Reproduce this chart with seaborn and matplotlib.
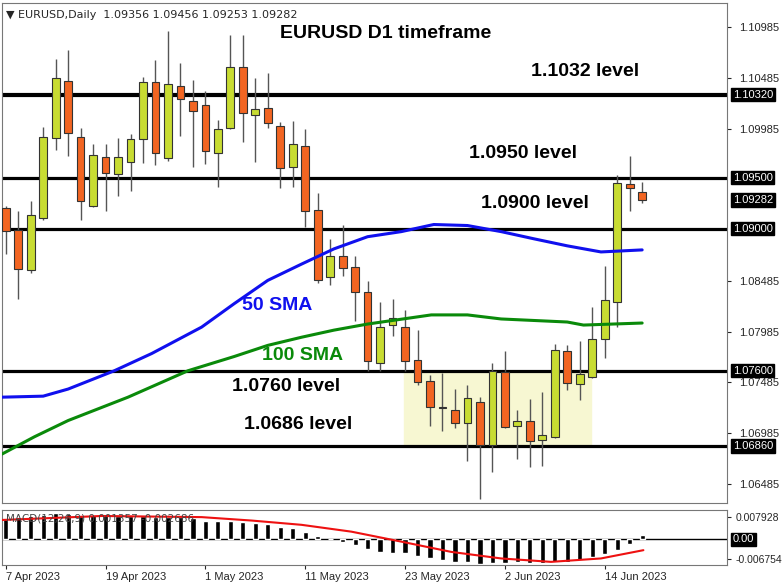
import numpy as np
import pandas as pd
import matplotlib
matplotlib.use("Agg")
import matplotlib.pyplot as plt
import matplotlib.transforms as mtrans
import seaborn as sns

# ---------------- data ----------------
opens  = [1.0920,1.0899,1.0859,1.0910,1.0989,1.1045,1.0990,1.0922,1.0970,1.0954,
          1.0966,1.0988,1.1044,1.0969,1.1040,1.1026,1.1022,1.0974,1.0999,1.1059,
          1.1012,1.1019,1.1001,1.0961,1.0981,1.0918,1.0852,1.0873,1.0862,1.0838,
          1.0768,1.0805,1.0803,1.0771,1.0750,1.0724,1.0721,1.0709,1.0729,1.0687,
          1.0759,1.0706,1.0711,1.0692,1.0695,1.0779,1.0747,1.0754,1.0791,1.0828,
          1.09440,1.09356]
highs  = [1.0922,1.0917,1.0927,1.1000,1.1067,1.1076,1.0999,1.0983,1.0983,1.0989,
          1.0993,1.1049,1.1066,1.1095,1.1063,1.1046,1.1035,1.1007,1.1091,1.1091,
          1.1048,1.1053,1.1005,1.1006,1.0998,1.0935,1.0890,1.0904,1.0873,1.0848,
          1.0828,1.0831,1.0820,1.0800,1.0756,1.0758,1.0742,1.0746,1.0734,1.0768,
          1.0779,1.0721,1.0732,1.0739,1.0786,1.0785,1.0789,1.0823,1.0863,1.0953,
          1.0971,1.09456]
lows   = [1.0875,1.0831,1.0856,1.0908,1.0977,1.0971,1.0908,1.0921,1.0917,1.0932,
          1.0937,1.0965,1.0963,1.0967,1.0991,1.0961,1.0964,1.0941,1.0998,1.0985,
          1.0966,1.0999,1.0940,1.0941,1.0902,1.0846,1.0844,1.0853,1.0809,1.0760,
          1.0760,1.0794,1.0760,1.0746,1.0706,1.0701,1.0704,1.0671,1.0634,1.0660,
          1.0704,1.0673,1.0665,1.0666,1.0694,1.0741,1.0731,1.0753,1.0773,1.0803,
          1.0917,1.09253]
closes = [1.0898,1.0860,1.0913,1.0990,1.1048,1.0994,1.0927,1.0972,1.0955,1.0970,
          1.0988,1.1044,1.0974,1.1042,1.1028,1.1016,1.0976,1.0998,1.1059,1.1014,
          1.1018,1.1004,1.0960,1.0983,1.0917,1.0849,1.0873,1.0861,1.0838,1.0770,
          1.0803,1.0812,1.0770,1.0749,1.0724,1.0723,1.0709,1.0733,1.0687,1.0760,
          1.0705,1.0711,1.0691,1.0697,1.0780,1.0748,1.0757,1.0791,1.0830,1.0945,
          1.0940,1.09282]

sma50_idx = [-0.3,3.0,5.0,8.7,11.7,15.7,18.3,21,23.7,26.3,29,31.7,34.3,37,39.7,42.3,45,47.7,51]
sma50_val = [1.0734,1.0735,1.0742,1.0760,1.0777,1.0803,1.0826,1.0849,1.0865,1.0880,1.0892,
             1.0897,1.0904,1.0903,1.0897,1.0890,1.0883,1.0877,1.0879]
sma100_idx = [-0.3,2.3,5,9.8,14.6,18.3,21,23.7,26.3,29,34.1,37,39.7,45,46.3,51]
sma100_val = [1.0678,1.0695,1.0711,1.0734,1.0760,1.0774,1.0785,1.0793,1.0800,1.0806,
              1.0815,1.0815,1.0811,1.0808,1.0805,1.0807]

macd_hist = [0.0071,0.0080,0.0082,0.0086,0.0092,0.0089,0.0086,0.0086,0.0084,0.0082,
             0.0082,0.0082,0.0080,0.0080,0.0078,0.0074,0.0066,0.0066,0.0066,0.0061,
             0.0059,0.0054,0.0045,0.0039,0.0027,0.0012,0.0002,-0.0011,-0.0020,-0.0035,
             -0.0044,-0.0047,-0.0049,-0.0059,-0.0067,-0.0073,-0.0079,-0.0081,-0.0085,-0.0082,
             -0.0082,-0.0081,-0.0082,-0.0082,-0.0079,-0.0079,-0.0073,-0.0061,-0.0052,-0.0038,
             -0.0016,0.0015]
signal_idx = [-0.3,7.7,15.7,19.7,23.7,27.7,31.7,35.7,39.7,43.7,47.7,51.1]
signal_val = [0.0068,0.0082,0.0078,0.0066,0.0051,0.0027,-0.0008,-0.0044,-0.0067,-0.0079,-0.0067,-0.0038]

levels = [1.1032,1.0950,1.0900,1.0760,1.0686]
level_labels = ["1.10320","1.09500","1.09000","1.07600","1.06860"]
last_price = 1.09282
ytick_vals = [1.10985,1.10485,1.09985,1.08485,1.07985,1.07485,1.06985,1.06485]
date_idx = [0,8,16,24,32,40,48]
date_labels = ["7 Apr 2023","19 Apr 2023","1 May 2023","11 May 2023","23 May 2023","2 Jun 2023","14 Jun 2023"]

# ---------------- plot ----------------
sns.set_style("white")
plt.rcParams['font.family'] = ['Liberation Sans', 'DejaVu Sans']

fig = plt.figure(figsize=(7.82, 5.87), dpi=100)
W, H = 782, 587
ax = fig.add_axes([2/W, (H-503)/H, 725/W, 500/H])
mx = fig.add_axes([2/W, (H-565)/H, 725/W, 55/H])

xlim = (-0.3, 57.8)
ax.set_xlim(*xlim)
ax.set_ylim(1.06298, 1.11221)

n = len(opens)
idx = np.arange(n)
df = pd.DataFrame(dict(i=idx, o=opens, h=highs, l=lows, c=closes))
bull_col, bear_col = "#c8dc32", "#f26522"

ax.fill_between([31.95, 46.9], 1.0686, 1.0760, color="#f7f7d2", zorder=0)

for lv in levels:
    ax.axhline(lv, color="black", lw=3.0 if lv == 1.1032 else 2.3, zorder=1)

for _, r in df.iterrows():
    ax.vlines(r.i, r.l, r.h, color="#555555", lw=1.0, zorder=2)
    up = r.c >= r.o
    lo, hi = min(r.o, r.c), max(r.o, r.c)
    ax.bar(r.i, max(hi - lo, 0.00004), bottom=lo, width=0.62,
           color=bull_col if up else bear_col, edgecolor="#333333", lw=0.8, zorder=3)

sns.lineplot(x=sma50_idx, y=sma50_val, ax=ax, color="#1010ee", lw=2.2, zorder=4)
sns.lineplot(x=sma100_idx, y=sma100_val, ax=ax, color="#0a8a0a", lw=2.2, zorder=4)

ax.yaxis.tick_right()
ax.set_yticks(ytick_vals)
ax.set_yticklabels([f"{v:.5f}" for v in ytick_vals], fontsize=8)
ax.tick_params(axis='y', length=3, pad=6, right=True, direction='out')
ax.set_xticks([])
for s in ax.spines.values():
    s.set_color("#777777"); s.set_linewidth(0.8)

tr = mtrans.blended_transform_factory(ax.transAxes, ax.transData)
for lv, lab in zip(levels + [last_price], level_labels + ["1.09282"]):
    ax.text(1.008, lv, lab, transform=tr, fontsize=8, color="white", va="center", ha="left",
            bbox=dict(boxstyle="square,pad=0.15", fc="black", ec="black"), zorder=10, clip_on=False)

bold = dict(fontsize=14, fontweight="bold", ha="left", va="center")
ax.text(22.0, 1.10918, "EURUSD D1 timeframe", color="black", **bold)
ax.text(42.1, 1.10544, "1.1032 level", color="black", **bold)
ax.text(37.1, 1.09736, "1.0950 level", color="black", **bold)
ax.text(38.1, 1.09244, "1.0900 level", color="black", **bold)
ax.text(18.9, 1.08239, "50 SMA", color="#1010ee", **bold)
ax.text(20.5, 1.07747, "100 SMA", color="#0a8a0a", **bold)
ax.text(18.1, 1.07441, "1.0760 level", color="black", **bold)
ax.text(19.1, 1.07067, "1.0686 level", color="black", **bold)
ax.text(0.005, 0.985, "▼ EURUSD,Daily  1.09356 1.09456 1.09253 1.09282", transform=ax.transAxes,
        fontsize=8, va="top", ha="left", family=["DejaVu Sans"])

mx.set_xlim(*xlim)
mx.set_ylim(-0.0090, 0.0103)
mx.bar(idx, macd_hist, width=0.42, color="black", zorder=2)
mx.axhline(0, color="black", lw=1.0, zorder=1)
sns.lineplot(x=signal_idx, y=signal_val, ax=mx, color="#ee1111", lw=1.5, zorder=3)
mx.yaxis.tick_right()
mx.set_yticks([0.007928, -0.006754])
mx.set_yticklabels(["0.007928", "-0.006754"], fontsize=7.5)
mx.tick_params(axis='y', length=3, pad=3, direction='out')
mtr = mtrans.blended_transform_factory(mx.transAxes, mx.transData)
mx.text(1.008, 0.0, "0.00", transform=mtr, fontsize=8, color="white", va="center",
        bbox=dict(boxstyle="square,pad=0.15", fc="black", ec="black"), clip_on=False)
mx.text(0.005, 0.93, "MACD(12,26,9) 0.001357 -0.002686", transform=mx.transAxes,
        fontsize=7.5, color="#444444", va="top", family=["DejaVu Sans"])
mx.set_xticks(date_idx)
mx.set_xticklabels(date_labels, fontsize=8, ha="left")
mx.tick_params(axis='x', length=3, pad=2, direction='out', bottom=True)
for s in mx.spines.values():
    s.set_color("#777777"); s.set_linewidth(0.8)

fig.savefig("out.png", dpi=100, facecolor="white")
